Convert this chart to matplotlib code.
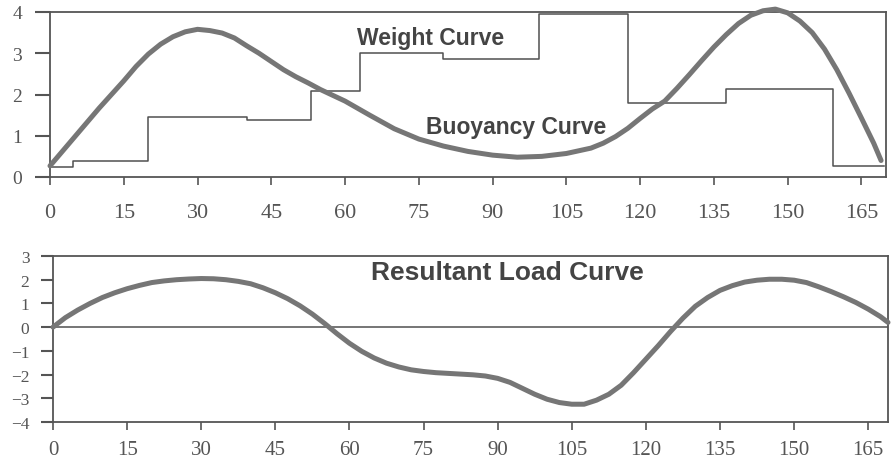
import matplotlib.pyplot as plt

plt.rcParams['font.family'] = 'Liberation Serif'

# values
weight_x = [0, 4.7, 20, 40, 53, 63, 80, 99.4, 117.6, 137.5, 159.2, 169.5]
weight_y = [0.25, 0.4, 1.45, 1.38, 2.08, 3.0, 2.85, 3.95, 1.79, 2.14, 0.27, 0.27]

buoy_x = [0, 2.5, 5, 7.5, 10, 12.5, 15, 17.5, 20, 22.5, 25, 27.5, 30, 32.5, 35,
          37.5, 40, 42.5, 45, 47.5, 50, 52.5, 55, 57.5, 60, 65, 70, 75, 80, 85,
          90, 95, 100, 105, 110, 112.5, 115, 117.5, 120, 122.5, 125, 127.5,
          130, 132.5, 135, 137.5, 140, 142.5, 145, 147.5, 150, 152.5, 155,
          157.5, 160, 162.5, 165, 167.5, 169]
buoy_y = [0.27, 0.62, 0.97, 1.32, 1.67, 2.0, 2.33, 2.68, 2.98, 3.22, 3.4, 3.52,
          3.58, 3.55, 3.49, 3.37, 3.18, 3.0, 2.8, 2.6, 2.43, 2.28, 2.12, 1.98,
          1.84, 1.5, 1.17, 0.92, 0.75, 0.62, 0.53, 0.48, 0.5, 0.57, 0.7, 0.82,
          0.98, 1.18, 1.42, 1.65, 1.84, 2.15, 2.48, 2.82, 3.15, 3.45, 3.72,
          3.92, 4.03, 4.07, 3.98, 3.78, 3.5, 3.1, 2.6, 2.03, 1.43, 0.82, 0.4]

load_x = [0, 2.5, 5, 7.5, 10, 12.5, 15, 17.5, 20, 22.5, 25, 27.5, 30, 32.5, 35,
          37.5, 40, 42.5, 45, 47.5, 50, 52.5, 55, 57.5, 60, 62.5, 65, 67.5, 70,
          72.5, 75, 77.5, 80, 82.5, 85, 87.5, 90, 92.5, 95, 97.5, 100, 102.5,
          105, 107.5, 110, 112.5, 115, 117.5, 120, 122.5, 125, 127.5, 130,
          132.5, 135, 137.5, 140, 142.5, 145, 147.5, 150, 152.5, 155, 157.5,
          160, 162.5, 165, 167.5, 169]
load_y = [0, 0.4, 0.72, 1.0, 1.25, 1.45, 1.62, 1.76, 1.88, 1.95, 2.0, 2.03,
          2.05, 2.04, 2.0, 1.93, 1.83, 1.66, 1.45, 1.2, 0.9, 0.55, 0.15, -0.28,
          -0.68, -1.02, -1.3, -1.52, -1.68, -1.8, -1.87, -1.92, -1.95, -1.98,
          -2.01, -2.06, -2.16, -2.33, -2.58, -2.83, -3.04, -3.18, -3.25, -3.25,
          -3.08, -2.83, -2.45, -1.92, -1.35, -0.78, -0.18, 0.38, 0.88, 1.25,
          1.55, 1.75, 1.9, 1.98, 2.02, 2.02, 1.98, 1.88, 1.7, 1.5, 1.28, 1.04,
          0.76, 0.44, 0.2]

xticks = list(range(0, 166, 15))

W, H = 891, 464
fig = plt.figure(figsize=(W / 100, H / 100), dpi=100)
ax1 = fig.add_axes([50 / W, 1 - 178 / H, 836 / W, 165 / H])
ax2 = fig.add_axes([53 / W, 1 - 423 / H, 835 / W, 166 / H])

frame = '#555555'
txt = '#444444'
curve = '#767676'

for ax in (ax1, ax2):
    for s in ax.spines.values():
        s.set_color(frame)
        s.set_linewidth(1.3)
    ax.set_xticks(xticks)
    ax.tick_params(axis='x', direction='out', length=6, width=1.2,
                   color=frame, labelcolor='#555555', labelsize=16)
    ax.tick_params(axis='y', direction='out', length=11, width=1.5,
                   color=frame, labelcolor='#555555')

ax1.step(weight_x, weight_y, where='post', color='#505050', lw=1.1)
ax1.plot(buoy_x, buoy_y, color=curve, lw=3.6, solid_capstyle='round',
         clip_on=False, zorder=3)
ax1.set_xlim(0, 170)
ax1.set_ylim(0, 4)
ax1.set_yticks([0, 1, 2, 3, 4])
ax1.tick_params(axis='y', labelsize=14, pad=9)
ax1.tick_params(axis='x', pad=13)
ax1.text(77.3, 3.39, 'Weight Curve', ha='center', va='center', fontsize=16.5,
         fontweight='bold', color=txt, family='Liberation Sans')
ax1.text(94.7, 1.23, 'Buoyancy Curve', ha='center', va='center', fontsize=16.5,
         fontweight='bold', color=txt, family='Liberation Sans')

ax2.axhline(0, color='#505050', lw=1.1)
ax2.plot(load_x, load_y, color=curve, lw=3.6, solid_capstyle='round',
         clip_on=False, zorder=3)
ax2.set_xlim(0, 169)
ax2.set_ylim(-4, 3)
ax2.set_yticks(range(-4, 4))
ax2.tick_params(axis='y', labelsize=12.5, pad=8, length=9)
ax2.tick_params(axis='x', pad=7, labelsize=15)
ax2.text(91.9, 2.34, 'Resultant Load Curve', ha='center', va='center',
         fontsize=19, fontweight='bold', color=txt, family='Liberation Sans')

fig.savefig('out.png', dpi=100)
